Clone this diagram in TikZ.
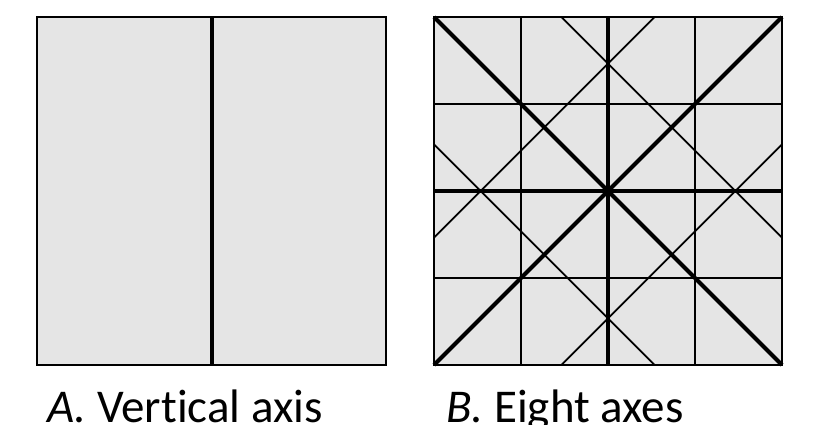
\documentclass[tikz,border=0pt]{standalone}
\usepackage{fontspec}
\setmainfont{Carlito}[Ligatures=NoCommon]
\begin{document}
\begin{tikzpicture}[x=1pt,y=-1pt,
  panel/.style={fill=panelgray,draw=black,line width=2pt},
  thinaxis/.style={draw=black,line width=1.7pt},
  thickaxis/.style={draw=black,line width=4pt},
  caption/.style={anchor=base west,inner sep=0pt,font=\fontsize{47}{50}\selectfont}]
\definecolor{panelgray}{RGB}{229,229,229}
\useasboundingbox (0,0) rectangle (819,425);
% Panel A
\coordinate (A1) at (37,17);
\coordinate (A2) at (386,365);
\fill[panelgray] (A1) rectangle (A2);
\draw[thickaxis] (211.5,17) -- (211.5,365);
\draw[panel,fill=none] (A1) rectangle (A2);
% Panel B
\begin{scope}[shift={(434,17)},x=348pt,y=-348pt]
  \coordinate (B1) at (0,0);
  \coordinate (B2) at (1,1);
  \fill[panelgray] (B1) rectangle (B2);
  \foreach \t in {0.25,0.75} {
    \draw[thinaxis] (\t,0) -- (\t,1);
    \draw[thinaxis] (0,\t) -- (1,\t);
  }
  \def\c{0.366}
  \draw[thinaxis] (\c,0) -- (1,1-\c);
  \draw[thinaxis] (1-\c,0) -- (0,1-\c);
  \draw[thinaxis] (0,\c) -- (1-\c,1);
  \draw[thinaxis] (1,\c) -- (\c,1);
  \draw[thickaxis] (0.5,0) -- (0.5,1);
  \draw[thickaxis] (0,0.5) -- (1,0.5);
  \draw[thickaxis] (0,0) -- (1,1);
  \draw[thickaxis] (1,0) -- (0,1);
  \draw[panel,fill=none] (B1) rectangle (B2);
\end{scope}
% Captions
\node[caption] (capA) at (47,422) {\textit{A.} Vertical axis};
\node[caption] (capB) at (446,422) {\textit{B.} Eight axes};
\end{tikzpicture}
\end{document}
